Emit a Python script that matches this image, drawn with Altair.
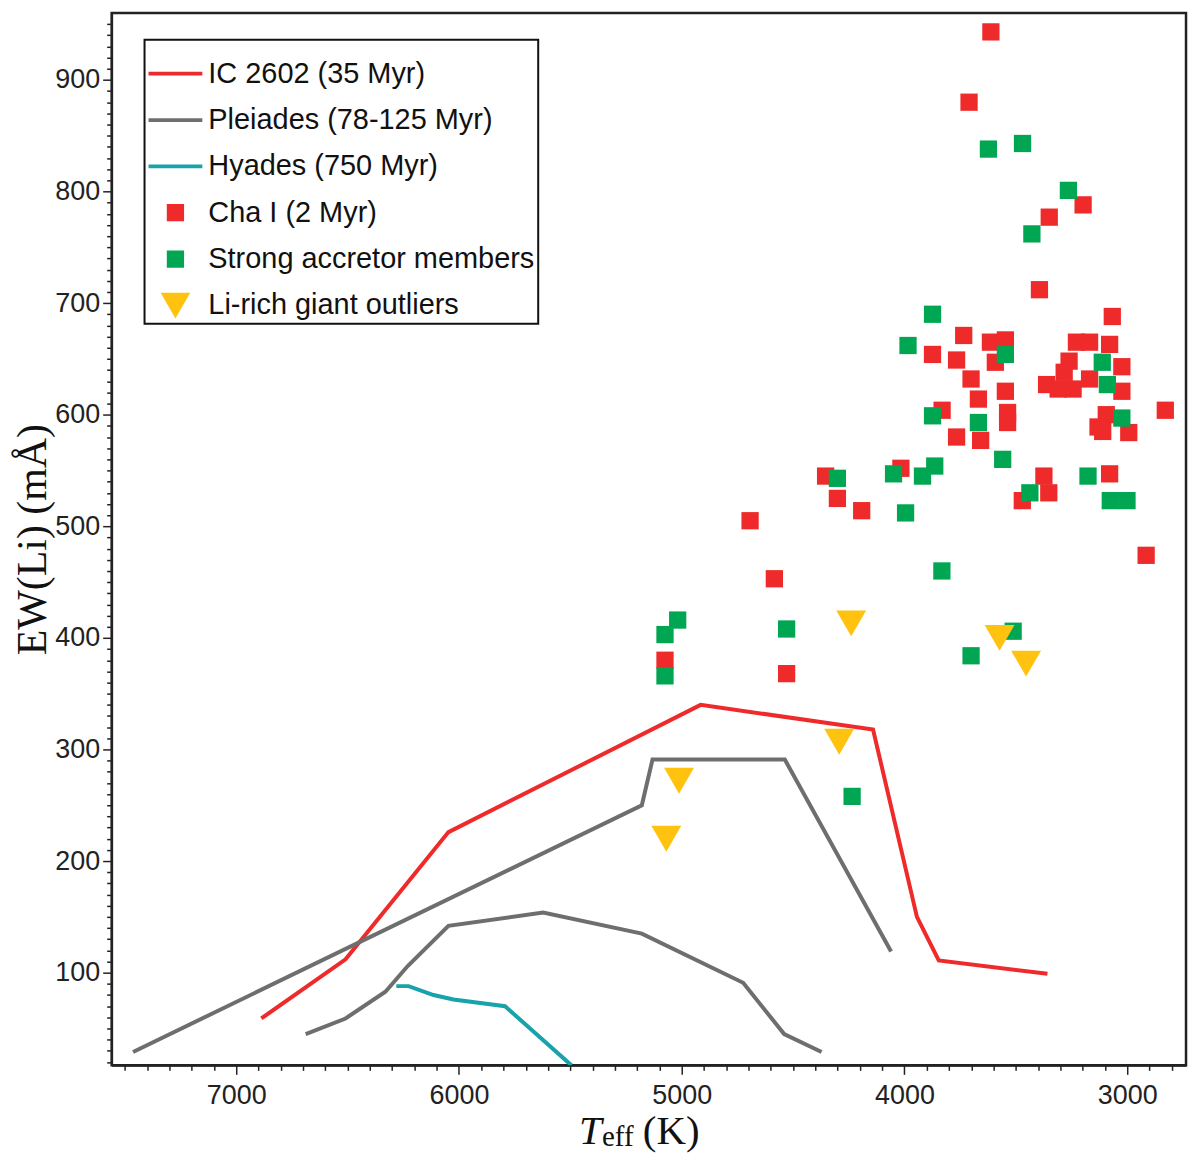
import altair as alt
import pandas as pd

# ---- series names ----
series_names = ["IC 2602 (35 Myr)", "Pleiades (78-125 Myr)", "Hyades (750 Myr)",
                "Cha I (2 Myr)", "Strong accretor members", "Li-rich giant outliers"]

# ---- cluster sequences (Teff, EW) ----
ic2602_teff = [6887, 6509, 6047, 4915, 4141, 3944, 3846, 3358]
ic2602_ew = [59, 112, 226, 340, 318, 150, 111, 99]

pleiades_up_teff = [7463, 5179, 5131, 4537, 4060]
pleiades_up_ew = [29, 250, 291, 291, 119]

pleiades_low_teff = [6688, 6509, 6330, 6230, 6047, 5622, 5179, 4724, 4540, 4372]
pleiades_low_ew = [45, 59, 83, 106, 142, 154, 135, 91, 45, 29]

hyades_teff = [6281, 6226, 6114, 6025, 5793, 5495]
hyades_ew = [88, 88, 80, 76, 70, 17]

# ---- Cha I members ----
cha_teff = [3612, 3710, 3198, 3350, 3394,
            3734, 3614, 3547, 3874, 3766, 3592, 3701, 3547, 3668, 3831, 3537, 3537,
            3766, 3658, 4354, 4301, 4192, 4016, 3471,
            3067, 3228, 3169, 3079, 3261, 3024, 3283, 3169, 3362, 3310, 3243, 3024,
            2829, 3094, 3131, 3110, 2993, 3374, 3352, 3079, 2915,
            4693, 4584, 5075, 4529]
cha_ew = [943, 880, 788, 777, 712,
          671, 665, 667, 654, 649, 647, 632, 621, 614, 604, 602, 593,
          580, 577, 545, 525, 514, 552, 523,
          688, 665, 665, 663, 648, 643, 638, 632, 627, 623, 623, 621,
          604, 600, 589, 585, 584, 545, 530, 547, 474,
          505, 453, 380, 368]

acc_teff = [3623, 3470, 3264, 3428,
            3874, 3984, 3547, 3874, 3668, 3559, 4301, 4049, 3864, 3919, 3995, 3437,
            3112, 3089, 3024, 3176, 3076, 3001,
            5018, 5075, 5075, 4529, 3832, 3701, 3512, 4235]
acc_ew = [838, 843, 801, 762,
          690, 662, 654, 599, 593, 560, 543, 547, 554, 545, 512, 530,
          647, 627, 597, 545, 523, 523,
          416, 403, 366, 408, 460, 384, 406, 258]

giant_teff = [4239, 3573, 3454, 4293, 5012, 5069]
giant_ew = [413, 400, 377, 307, 272, 220]

# ---- styling ----
colors = ["#EE2A2A", "#6E6E6E", "#17A3A9", "#EE2A2A", "#00A651", "#FFC20E"]
line_path = "M-1,-0.07H1V0.07H-1Z"
shapes = [line_path, line_path, line_path, "square", "square", "triangle-down"]
sizes = [2916, 2916, 2916, 300, 300, 900]

# ---- tables ----
line_rows = []
for name, grp, tt, ee in [
    (series_names[0], "ic", ic2602_teff, ic2602_ew),
    (series_names[1], "pl_up", pleiades_up_teff, pleiades_up_ew),
    (series_names[1], "pl_low", pleiades_low_teff, pleiades_low_ew),
    (series_names[2], "hy", hyades_teff, hyades_ew),
]:
    for i, (t, e) in enumerate(zip(tt, ee)):
        line_rows.append({"cluster": name, "group": grp, "order": i, "teff": t, "ew": e})
lines_df = pd.DataFrame(line_rows)

pt_rows = []
for name, tt, ee in [(series_names[3], cha_teff, cha_ew),
                     (series_names[4], acc_teff, acc_ew),
                     (series_names[5], giant_teff, giant_ew)]:
    for t, e in zip(tt, ee):
        pt_rows.append({"series": name, "teff": t, "ew": e})
points_df = pd.DataFrame(pt_rows)

W, H = 1078, 1056
xscale = alt.Scale(domain=[7559, 2736], nice=False, zero=False)
yscale = alt.Scale(domain=[17, 960], nice=False, zero=False)

x_axis = alt.Axis(
    values=list(range(2800, 7600, 100)), format="d",
    labelExpr="datum.value % 1000 === 0 ? datum.label : ''",
    labelOverlap=False, labelFlush=False,
    tickSize={"condition": {"test": "datum.value % 1000 === 0", "value": 9}, "value": 5},
    tickColor="#222", tickWidth=1.5, domainColor="#222", domainWidth=2,
    labelFont="Liberation Sans", labelFontSize=27, labelColor="#222", labelPadding=8,
    grid=False, title=None,
)
y_axis = alt.Axis(
    values=list(range(20, 960, 10)), format="d",
    labelExpr="datum.value % 100 === 0 ? datum.label : ''",
    labelOverlap=False, labelFlush=False,
    tickSize={"condition": {"test": "datum.value % 100 === 0", "value": 9}, "value": 5},
    tickColor="#222", tickWidth=1.5, domainColor="#222", domainWidth=2,
    labelFont="Liberation Sans", labelFontSize=27, labelColor="#222", labelPadding=3,
    grid=False,
    title="EW(Li) (mÅ)", titleFont="Liberation Serif", titleFontSize=42,
    titleFontWeight="normal", titleColor="#111", titleAngle=270,
    titleX=-79, titleY=H / 2, titleAlign="center", titleBaseline="middle",
)

legend = alt.Legend(
    title=" ", titleFontSize=14, titlePadding=4,
    orient="none", legendX=33, legendY=27,
    labelFont="Liberation Sans", labelFontSize=29, labelColor="#111",
    labelExpr="datum.label + '\u00a0\u00a0'",
    labelOffset=5, labelLimit=0, rowPadding=17.5, clipHeight=26,
    padding=3, strokeColor="#111", fillColor="white",
    symbolOpacity=1,
)

lines = alt.Chart(lines_df).mark_line(strokeWidth=4, clip=True).encode(
    x=alt.X("teff:Q", scale=xscale, axis=x_axis),
    y=alt.Y("ew:Q", scale=yscale, axis=y_axis),
    stroke=alt.Stroke("cluster:N", scale=alt.Scale(domain=series_names[:3], range=colors[:3]), legend=None),
    detail="group:N",
    order="order:Q",
)

points = alt.Chart(points_df).mark_point(filled=True, opacity=1, strokeWidth=0).encode(
    x=alt.X("teff:Q", scale=xscale, axis=x_axis),
    y=alt.Y("ew:Q", scale=yscale, axis=y_axis),
    color=alt.Color("series:N", scale=alt.Scale(domain=series_names, range=colors), legend=legend, sort=series_names),
    shape=alt.Shape("series:N", scale=alt.Scale(domain=series_names, range=shapes), legend=legend, sort=series_names),
    size=alt.Size("series:N", scale=alt.Scale(type="ordinal", domain=series_names, range=sizes), legend=legend, sort=series_names),
)

# x-axis title built from pieces: italic T, subscript eff, (K)
t_df = pd.DataFrame({"s": ["T"]})
eff_df = pd.DataFrame({"s": ["eff"]})
k_df = pd.DataFrame({"s": ["(K)"]})
xt1 = alt.Chart(t_df).mark_text(font="Liberation Serif", fontSize=41, fontStyle="italic",
                                align="left", baseline="alphabetic", color="#111").encode(
    x=alt.value(469), y=alt.value(1135), text="s:N")
xt2 = alt.Chart(eff_df).mark_text(font="Liberation Serif", fontSize=29,
                                  align="left", baseline="alphabetic", color="#111").encode(
    x=alt.value(492), y=alt.value(1137), text="s:N")
xt3 = alt.Chart(k_df).mark_text(font="Liberation Serif", fontSize=41,
                                align="left", baseline="alphabetic", color="#111").encode(
    x=alt.value(533), y=alt.value(1135), text="s:N")

chart = alt.layer(lines, points, xt1, xt2, xt3).properties(
    width=W, height=H,
    background="white",
    autosize=alt.AutoSizeParams(type="none"),
    padding={"left": 104, "top": 3, "right": 6, "bottom": 86},
).configure_view(stroke="#222", strokeWidth=2.5).configure_legend(strokeWidth=2).configure_axis(
    labelOverlap=False
)

chart.save("out.html", embed_options={"renderer": "svg", "actions": False})
